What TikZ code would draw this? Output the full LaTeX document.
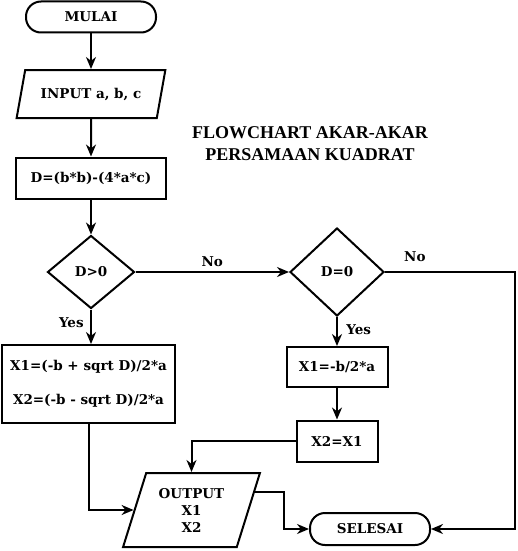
\documentclass[tikz,border=0pt]{standalone}
\usepackage{fontspec}
\setmainfont{DejaVu Serif}
\newfontfamily\titlefont{Liberation Serif}
\usetikzlibrary{shapes.geometric, arrows.meta, calc}
\tikzstyle{startstop} = [rectangle, rounded corners=15pt, minimum width=130pt, minimum height=31pt, text centered, draw=black, line width=2pt]
\tikzstyle{io} = [trapezium, trapezium left angle=70, trapezium right angle=110, trapezium stretches=true, text centered, draw=black, line width=2pt]
\tikzstyle{process} = [rectangle, text centered, draw=black, line width=2pt]
\tikzstyle{decision} = [diamond, inner sep=0pt, text centered, draw=black, line width=2pt]
\tikzstyle{arrow} = [line width=2pt,->,>={Stealth[length=12pt,width=10pt]}]

\begin{document}
\begin{tikzpicture}[x=1pt, y=-1pt, font=\bfseries\fontsize{13.5}{17}\selectfont]
	\useasboundingbox (0,0) rectangle (517,551);
	\node (start) [startstop] at (91,17) {MULAI};
	\node (in) [io, minimum width=149pt, minimum height=48pt] at (91,94) {INPUT a, b, c};
	\node (disc) [process, minimum width=150pt, minimum height=41pt] at (91,178) {D=(b*b)-(4*a*c)};
	\node (dec1) [decision, minimum width=87pt, minimum height=73pt] at (91,272) {D>0};
	\node (dec2) [decision, minimum width=94pt, minimum height=88pt] at (337,272) {D=0};
	\node (roots) [process, minimum width=173pt, minimum height=78pt, align=center] at (88.5,384) {X1=(-b + sqrt D)/2*a\\[17pt]X2=(-b - sqrt D)/2*a};
	\node (xa) [process, minimum width=101pt, minimum height=40pt] at (337,367) {X1=-b/2*a};
	\node (xb) [process, minimum width=81pt, minimum height=41pt] at (337,441) {X2=X1};
	\node (out) [io, minimum width=137pt, minimum height=74pt, align=center] at (191.5,510) {OUTPUT\\X1\\X2};
	\node (stop) [startstop, minimum width=120pt, minimum height=32pt] at (370,529) {SELESAI};
	\node (title) [font=\titlefont\bfseries\fontsize{18}{22}\selectfont, align=center] at (310,144) {FLOWCHART AKAR-AKAR\\PERSAMAAN KUADRAT};
	\coordinate (rb) at (515,529);
	\coordinate (outr) at ($(out.top right corner)!0.26!(out.bottom right corner)$);
	\draw [arrow] (start) -- (in);
	\draw [arrow] (in) -- (disc);
	\draw [arrow] (disc) -- (dec1);
	\draw [arrow] (dec1) -- node[above, yshift=1pt] {No} (dec2);
	\draw [arrow] (dec1.south) -- node[left, pos=0.38, xshift=-3pt] {Yes} (dec1.south |- roots.north);
	\draw [arrow] (dec2) -- node[right, pos=0.44, xshift=5pt] {Yes} (xa);
	\draw [arrow] (xa) -- (xb);
	\draw [arrow] (xb) -| (out);
	\draw [arrow] (roots) |- (out);
	\draw [arrow] (outr) -- ++(29,0) |- (stop);
	\draw [arrow] (dec2) -| node[above, pos=0.115, yshift=6pt] {No} (rb) -- (stop);
\end{tikzpicture}
\end{document}
